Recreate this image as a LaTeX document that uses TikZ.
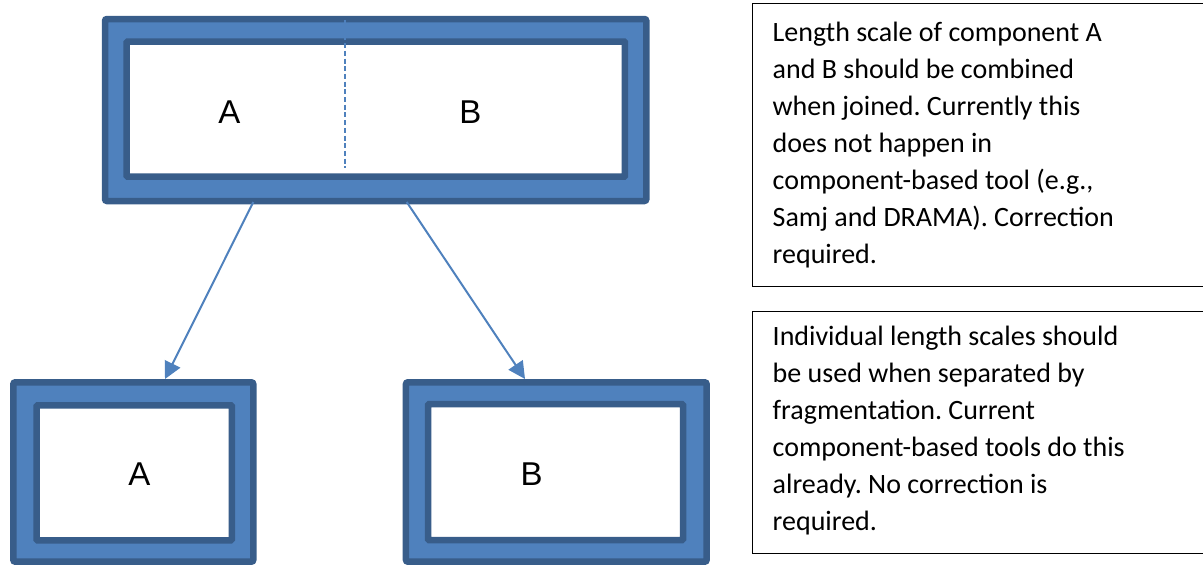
\documentclass[tikz,border=0pt]{standalone}
\usepackage{fontspec}
\setmainfont{Carlito}
\newfontfamily\arialf{Liberation Sans}
\usetikzlibrary{arrows.meta}
\definecolor{boxfill}{HTML}{4F81BD}
\definecolor{boxline}{HTML}{385D8A}
\tikzset{
  outerbox/.style={draw=boxline, fill=boxfill, line width=6.5pt, rounded corners=2pt, inner sep=0pt},
  innerbox/.style={draw=boxline, fill=white, line width=6.5pt, rounded corners=1pt, inner sep=0pt},
  letter/.style={font=\arialf\fontsize{33}{33}\selectfont, inner sep=0pt},
  conn/.style={draw=boxfill, line width=2pt, -{Triangle[length=17pt,width=17pt]}},
  notebox/.style={draw=black, line width=1.5pt, inner sep=0pt},
  notetext/.style={font=\fontsize{28}{37}\selectfont, align=left, anchor=north west, inner sep=0pt},
  divider/.style={draw=boxfill, line width=2pt, dash pattern=on 5pt off 2.7pt}
}
\frenchspacing
\begin{document}
\begin{tikzpicture}[x=1pt, y=-1pt]
\useasboundingbox (0,0) rectangle (1203,565);
% top combined box
\node[outerbox, minimum width=541.3pt, minimum height=182pt] (top) at (375.65,110) {};
\node[innerbox, minimum width=498.3pt, minimum height=135.2pt] (topin) at (375.8,109.1) {};
\node[letter] (topA) at (229.3,112) {A};
\node[letter] (topB) at (470.5,112) {B};
\coordinate (dtop) at (345,20);
\coordinate (dbot) at (345,168.3);
\draw[divider] (dtop) -- (dbot);
% bottom left box
\node[outerbox, minimum width=240pt, minimum height=179.4pt] (bl) at (133.3,472) {};
\node[innerbox, minimum width=195.1pt, minimum height=135pt] (blin) at (134.2,472.8) {};
\node[letter] (blA) at (139.3,474) {A};
% bottom right box
\node[outerbox, minimum width=300.7pt, minimum height=179.4pt] (br) at (556.3,472) {};
\node[innerbox, minimum width=255pt, minimum height=135.8pt] (brin) at (555.5,472.1) {};
\node[letter] (brB) at (531.7,474) {B};
% connectors
\coordinate (s1) at (253.3,202);
\coordinate (t1) at (165,379);
\coordinate (s2) at (406.7,202);
\coordinate (t2) at (525,379);
\draw[conn] (s1) -- (t1);
\draw[conn] (s2) -- (t2);
% note boxes
\node[notebox, minimum width=457.7pt, minimum height=283.4pt] (note1) at (981.15,145) {};
\node[notebox, minimum width=457.7pt, minimum height=241.6pt] (note2) at (981.15,432.5) {};
\node[notetext] (note1text) at (772.5,15.8) {\strut Length scale of component A\\and B should be combined\\when joined. Currently this\\does not happen in\\component-based tool (e.g.,\\Samj and DRAMA). Correction\\required.};
\node[notetext] (note2text) at (772.5,319.1) {\strut Individual length scales should\\be used when separated by\\fragmentation. Current\\component-based tools do this\\already. No correction is\\required.};
\end{tikzpicture}
\end{document}
